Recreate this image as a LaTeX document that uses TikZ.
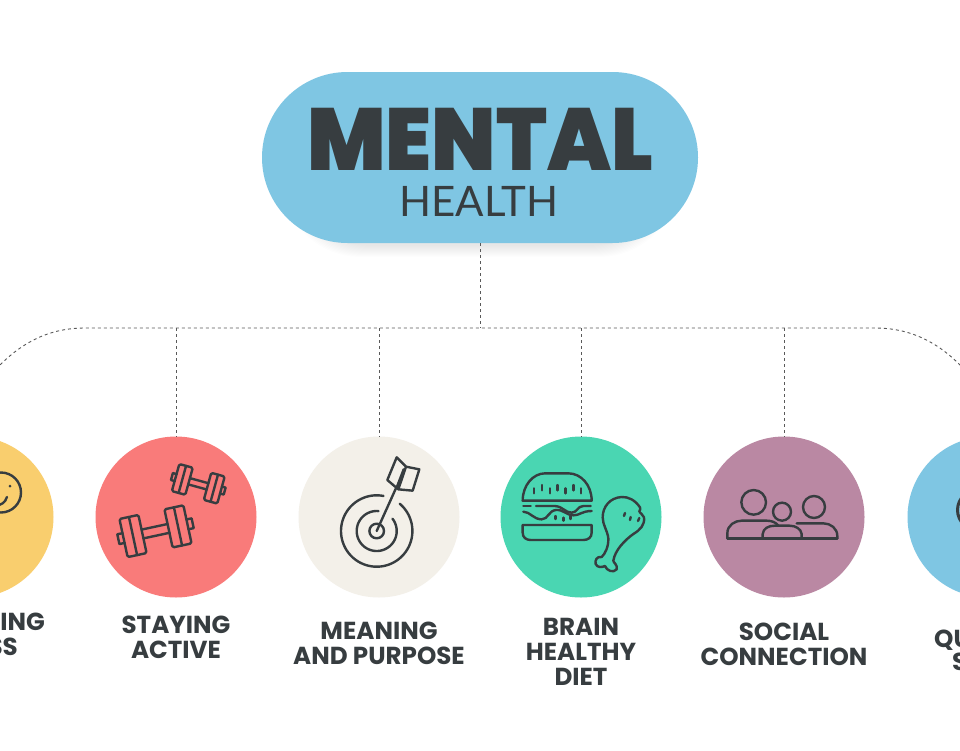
\documentclass[tikz,border=0pt]{standalone}
\usepackage{fontspec}
\setmainfont{Poppins}
\newfontfamily\labelfont{Poppins}[BoldFont={Poppins Bold}]
\newfontfamily\titlefont{Poppins Black}[FakeStretch=0.94]
\newfontfamily\subfont{Lato}
\definecolor{ink}{HTML}{373D40}
\definecolor{cyellow}{HTML}{F9CE6E}
\definecolor{cred}{HTML}{F97B7A}
\definecolor{ccream}{HTML}{F3F0E9}
\definecolor{cgreen}{HTML}{4AD6B2}
\definecolor{cmauve}{HTML}{BA88A3}
\definecolor{cblue}{HTML}{7FC6E3}
\tikzset{
  x=1pt,y=-1pt,
  tile/.style={circle,inner sep=0pt,minimum size=161pt,fill=#1},
  linkline/.style={draw=black!65,line width=0.9pt,dash pattern=on 3pt off 3pt},
  icon/.style={draw=ink,line width=2.4pt,line cap=round,line join=round},
  lab/.style={font=\labelfont\bfseries\fontsize{24.6}{24.6}\selectfont,text=ink,inner sep=0pt,align=center,anchor=base},
  labr/.style={font=\labelfont\bfseries\fontsize{24.6}{24.6}\selectfont,text=ink,inner sep=0pt,anchor=base east},
  labl/.style={font=\labelfont\bfseries\fontsize{24.6}{24.6}\selectfont,text=ink,inner sep=0pt,anchor=base west},
  zoomed/.style 2 args={shift={(#1,#2)},x=.33333pt,y=-.33333pt}
}
\newcommand{\dumbbell}[4]{%
\begin{scope}[shift={(#1,#2)},rotate=#3,scale=#4,x=1pt,y=-1pt]
  \draw[icon] (-13.3,-4.5) -- (13.3,-4.5) (-13.3,4.5) -- (13.3,4.5);
  \draw[icon,rounded corners=1.5pt] (-32.7,-19.5) rectangle (-13.3,19.5);
  \draw[icon,rounded corners=1.5pt] (13.3,-19.5) rectangle (32.7,19.5);
  \draw[icon] (-23,-19.5) -- (-23,19.5) (23,-19.5) -- (23,19.5);
  \draw[icon] (-32.7,-5) -- (-38,-5) -- (-38,5) -- (-32.7,5);
  \draw[icon] (32.7,-5) -- (38,-5) -- (38,5) -- (32.7,5);
\end{scope}}
\begin{document}
\begin{tikzpicture}
\clip (0,0) rectangle (960,750);
\fill[white] (0,0) rectangle (960,750);
% soft shadow
\foreach \d in {1,2,...,12}{
  \fill[black,opacity=0.007,rounded corners=80pt] (280+\d,85+\d) rectangle (680-\d,258-\d);
}
% pill
\node (pill) [fill=cblue,rounded corners=85.5pt,minimum width=436pt,minimum height=171pt,inner sep=0pt] at (480,157.5) {};
\node (mental) [font=\titlefont\fontsize{88}{88}\selectfont,text=ink,inner sep=0pt,anchor=base] at (480,170) {MENTAL};
\node (health) [font=\subfont\fontsize{42}{42}\selectfont,text=ink,inner sep=0pt,anchor=base] at (479,216) {HEALTH};
% circles
\node (c1) [tile=cyellow] at (-27,517) {};
\node (c2) [tile=cred] at (176,517) {};
\node (c3) [tile=ccream] at (379,517) {};
\node (c4) [tile=cgreen] at (581,517) {};
\node (c5) [tile=cmauve] at (784,517) {};
\node (c6) [tile=cblue] at (988,517) {};
% connectors
\coordinate (busl) at (-12,378);
\coordinate (busr) at (972,378);
\coordinate (bus0) at (480,328);
\coordinate (bus2) at (176,328);
\coordinate (bus3) at (379,328);
\coordinate (bus4) at (581,328);
\coordinate (bus5) at (784,328);
\draw[linkline] (busl) .. controls (15,346) and (45,328) .. (85,328) -- (875,328) .. controls (915,328) and (945,346) .. (busr);
\draw[linkline] (pill.south) -- (bus0);
\draw[linkline] (bus2) -- (c2.north);
\draw[linkline] (bus3) -- (c3.north);
\draw[linkline] (bus4) -- (c4.north);
\draw[linkline] (bus5) -- (c5.north);
% labels
\node (l1a) [labr] at (45,630) {ING};
\node (l1b) [labr] at (18,655) {SS};
\node (l2) [lab] at (176,658) {STAYING\\ACTIVE};
\node (l3) [lab] at (379,664) {MEANING\\AND PURPOSE};
\node (l4) [lab] at (581,685) {BRAIN\\HEALTHY\\DIET};
\node (l5) [lab] at (784,665) {SOCIAL\\CONNECTION};
\node (l6a) [labl] at (934,647) {QU};
\node (l6b) [labl] at (952,670) {S};
% smile
\draw[icon] (1,492.5) circle (20);
\fill[ink] (10,486) circle (1.5);
\draw[icon] (7,497) .. controls (5,503) and (1,505) .. (-3,505);
% dumbbells
\dumbbell{155.5}{531.2}{12.1}{1}
\dumbbell{198.3}{483.8}{-15.4}{.72}
% dart
\draw[icon] (376.7,531) circle (7.3);
\draw[icon,shift={(376.7,531)}] plot[domain=85:398,samples=70] ({20*cos(\x)},{-20*sin(\x)});
\draw[icon,shift={(376.7,531)}] plot[domain=79:410,samples=90] ({35.7*cos(\x)},{-35.7*sin(\x)});
\begin{scope}[zoomed={300}{430}]
  \draw[icon] (230,303) -- (290,170);
  \draw[icon] (318,110) -- (290,82) -- (262,150) -- (295,178) -- (338,182) -- (358,118) -- (318,110) -- (295,178);
  \draw[icon,line width=3pt] (312,118) -- (292,170);
\end{scope}
% burger and drumstick
\begin{scope}[zoomed={500}{430}]
  \draw[icon] (68,212) .. controls (68,165) and (100,130) .. (135,130) -- (205,130) .. controls (243,130) and (275,165) .. (275,212) -- cycle;
  \foreach \sx in {102,150,197,243}{\draw[icon] (\sx,175) -- (\sx,190);}
  \foreach \sx in {126,173,220}{\draw[icon] (\sx,165) -- (\sx,181);}
  \draw[icon] (70,228) -- (92,228);
  \draw[icon] (108,228) -- (165,228) .. controls (190,230) and (195,248) .. (215,248) .. controls (232,248) and (232,228) .. (250,228) -- (272,228);
  \draw[icon] (70,245) .. controls (90,245) and (100,268) .. (125,268) .. controls (145,268) and (145,242) .. (168,240) .. controls (190,238) and (200,256) .. (220,256) .. controls (240,256) and (245,243) .. (275,243);
  \foreach \sx/\sy in {167/258,190/263,212/258}{\draw[icon] (\sx,\sy) -- (\sx,\sy+9);}
  \draw[icon] (68,285) -- (275,285) -- (275,308) .. controls (275,322) and (265,330) .. (250,330) -- (92,330) .. controls (78,330) and (68,322) .. (68,308) -- cycle;
  \draw[icon] (420,232) .. controls (405,210) and (385,200) .. (365,201) .. controls (330,203) and (308,230) .. (308,262) .. controls (308,285) and (322,300) .. (325,325) .. controls (326,350) and (315,372) .. (305,381) .. controls (290,378) and (284,392) .. (287,402) .. controls (292,414) and (306,412) .. (315,408) .. controls (320,422) and (340,430) .. (350,418) .. controls (354,405) and (340,398) .. (340,392) .. controls (345,360) and (375,330) .. (400,312) .. controls (420,300) and (435,285) .. (432,262) .. controls (430,252) and (418,250) .. (418,243) .. controls (418,238) and (425,238) .. (420,232) -- cycle;
  \draw[icon] (375,249) -- (372,258) (392,261) -- (390,270) (418,264) -- (414,273);
\end{scope}
% people
\begin{scope}[zoomed={700}{430}]
  \draw[icon] (161,217) circle (37);
  \draw[icon] (246,245) circle (27);
  \draw[icon] (342,231) circle (33);
  \draw[icon] (82,325) -- (412,325);
  \draw[icon] (82,325) -- (82,310) .. controls (82,285) and (105,272) .. (125,272) -- (200,272) .. controls (215,272) and (228,277) .. (235,287);
  \draw[icon] (188,325) -- (188,312) .. controls (190,295) and (205,287) .. (225,287) -- (268,287) .. controls (288,287) and (303,297) .. (305,312) -- (305,325);
  \draw[icon] (290,280) -- (370,280) .. controls (392,280) and (412,295) .. (412,318) -- (412,325);
\end{scope}
% right icon
\draw[icon,line width=3pt] (977.5,510) circle (20);
\end{tikzpicture}
\end{document}
